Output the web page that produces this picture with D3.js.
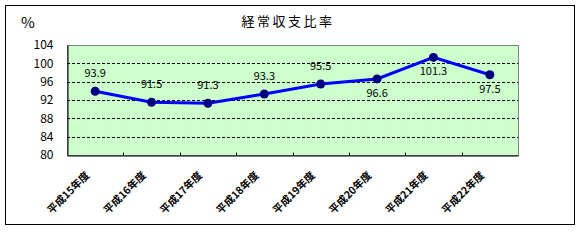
<!DOCTYPE html>
<html>
<head>
<meta charset="utf-8">
<script src="https://cdn.jsdelivr.net/npm/d3@7"></script>
<style>
  body { margin: 0; background: #fff; }
  text { font-family: "Noto Sans CJK JP", "DejaVu Sans", sans-serif; }
</style>
</head>
<body>
<div class="graph"></div>
<script>
const w = 580;
const h = 240;
const margin = {top: 45, right: 62, bottom: 85, left: 67};

const years = ["平成15年度", "平成16年度", "平成17年度", "平成18年度", "平成19年度", "平成20年度", "平成21年度", "平成22年度"];
const ratios = [93.9, 91.5, 91.3, 93.3, 95.5, 96.6, 101.3, 97.5];
const labelBelow = [false, false, false, false, false, true, true, true];
const yTicks = [80, 84, 88, 92, 96, 100, 104];

const svg = d3.select(".graph")
  .append("svg")
  .attr("width", w)
  .attr("height", h);

// outer frame
svg.append("rect")
  .attr("x", 5.5).attr("y", 5.5)
  .attr("width", 569).attr("height", 219)
  .attr("fill", "#fff")
  .attr("stroke", "#000")
  .attr("stroke-width", 1);

const xScale = d3.scaleBand()
  .domain(years)
  .range([margin.left, w - margin.right]);

const yScale = d3.scaleLinear()
  .domain([80, 104])
  .range([h - margin.bottom, margin.top]);

// plot area
svg.append("rect")
  .attr("x", margin.left + 0.5)
  .attr("y", margin.top + 0.5)
  .attr("width", w - margin.right - margin.left)
  .attr("height", h - margin.bottom - margin.top)
  .attr("fill", "#ccffcc")
  .attr("stroke", "#808080");

// gridlines
svg.append("g")
  .selectAll("line")
  .data(yTicks.filter(d => d > 80 && d < 104))
  .enter().append("line")
  .attr("x1", margin.left)
  .attr("x2", w - margin.right)
  .attr("y1", d => Math.round(yScale(d)) + 0.5)
  .attr("y2", d => Math.round(yScale(d)) + 0.5)
  .attr("stroke", "#000")
  .attr("stroke-dasharray", "3,2");

// y-axis
const yAxis = d3.axisLeft(yScale)
  .tickValues(yTicks)
  .tickSize(0)
  .tickPadding(14);

svg.append("g")
  .attr("transform", `translate(${margin.left + 0.5},0)`)
  .call(yAxis)
  .call(g => g.select(".domain").attr("stroke", "#000"))
  .call(g => g.selectAll("text")
    .attr("font-size", 12)
    .attr("font-family", "'DejaVu Sans', sans-serif")
    .attr("fill", "#000"));

// x-axis
const xAxis = d3.axisBottom(xScale).tickSize(0).tickFormat("");
const xg = svg.append("g")
  .attr("transform", `translate(0,${h - margin.bottom + 0.5})`)
  .call(xAxis);
xg.select(".domain").attr("stroke", "#000");

// tick marks at category boundaries (inside)
xg.selectAll("line.bnd")
  .data(years.slice(1))
  .enter().append("line")
  .attr("class", "bnd")
  .attr("x1", d => Math.round(xScale(d)) + 0.5)
  .attr("x2", d => Math.round(xScale(d)) + 0.5)
  .attr("y1", -3)
  .attr("y2", 0)
  .attr("stroke", "#000");

// rotated category labels
svg.append("g")
  .selectAll("text")
  .data(years)
  .enter().append("text")
  .attr("transform", d => `translate(${xScale(d) + xScale.bandwidth() / 2 - 5},${h - margin.bottom + 21}) rotate(-45)`)
  .attr("text-anchor", "end")
  .attr("font-size", 10.5)
  .attr("font-weight", "bold")
  .text(d => d);

// line
const line = d3.line()
  .x((d, i) => xScale(years[i]) + xScale.bandwidth() / 2)
  .y(d => yScale(d));

svg.append("path")
  .datum(ratios)
  .attr("d", line)
  .attr("fill", "none")
  .attr("stroke", "#0000ff")
  .attr("stroke-width", 3);

svg.append("g")
  .selectAll("circle")
  .data(ratios)
  .enter().append("circle")
  .attr("cx", (d, i) => xScale(years[i]) + xScale.bandwidth() / 2)
  .attr("cy", d => yScale(d))
  .attr("r", 4.5)
  .attr("fill", "#000080");

// data labels
svg.append("g")
  .selectAll("text")
  .data(ratios)
  .enter().append("text")
  .attr("x", (d, i) => xScale(years[i]) + xScale.bandwidth() / 2)
  .attr("y", (d, i) => yScale(d) + (labelBelow[i] ? 18 : -14))
  .attr("text-anchor", "middle")
  .attr("font-size", 11)
  .attr("font-family", "'DejaVu Sans Mono', monospace")
  .text(d => d3.format(".1f")(d));

// title and unit
svg.append("text")
  .attr("x", 288)
  .attr("y", 26)
  .attr("text-anchor", "middle")
  .attr("font-size", 13)
  .attr("letter-spacing", 2.5)
  .text("経常収支比率");

svg.append("text")
  .attr("x", 21)
  .attr("y", 28)
  .attr("font-size", 15)
  .attr("font-family", "'DejaVu Sans', sans-serif")
  .text("%");
</script>
</body>
</html>
